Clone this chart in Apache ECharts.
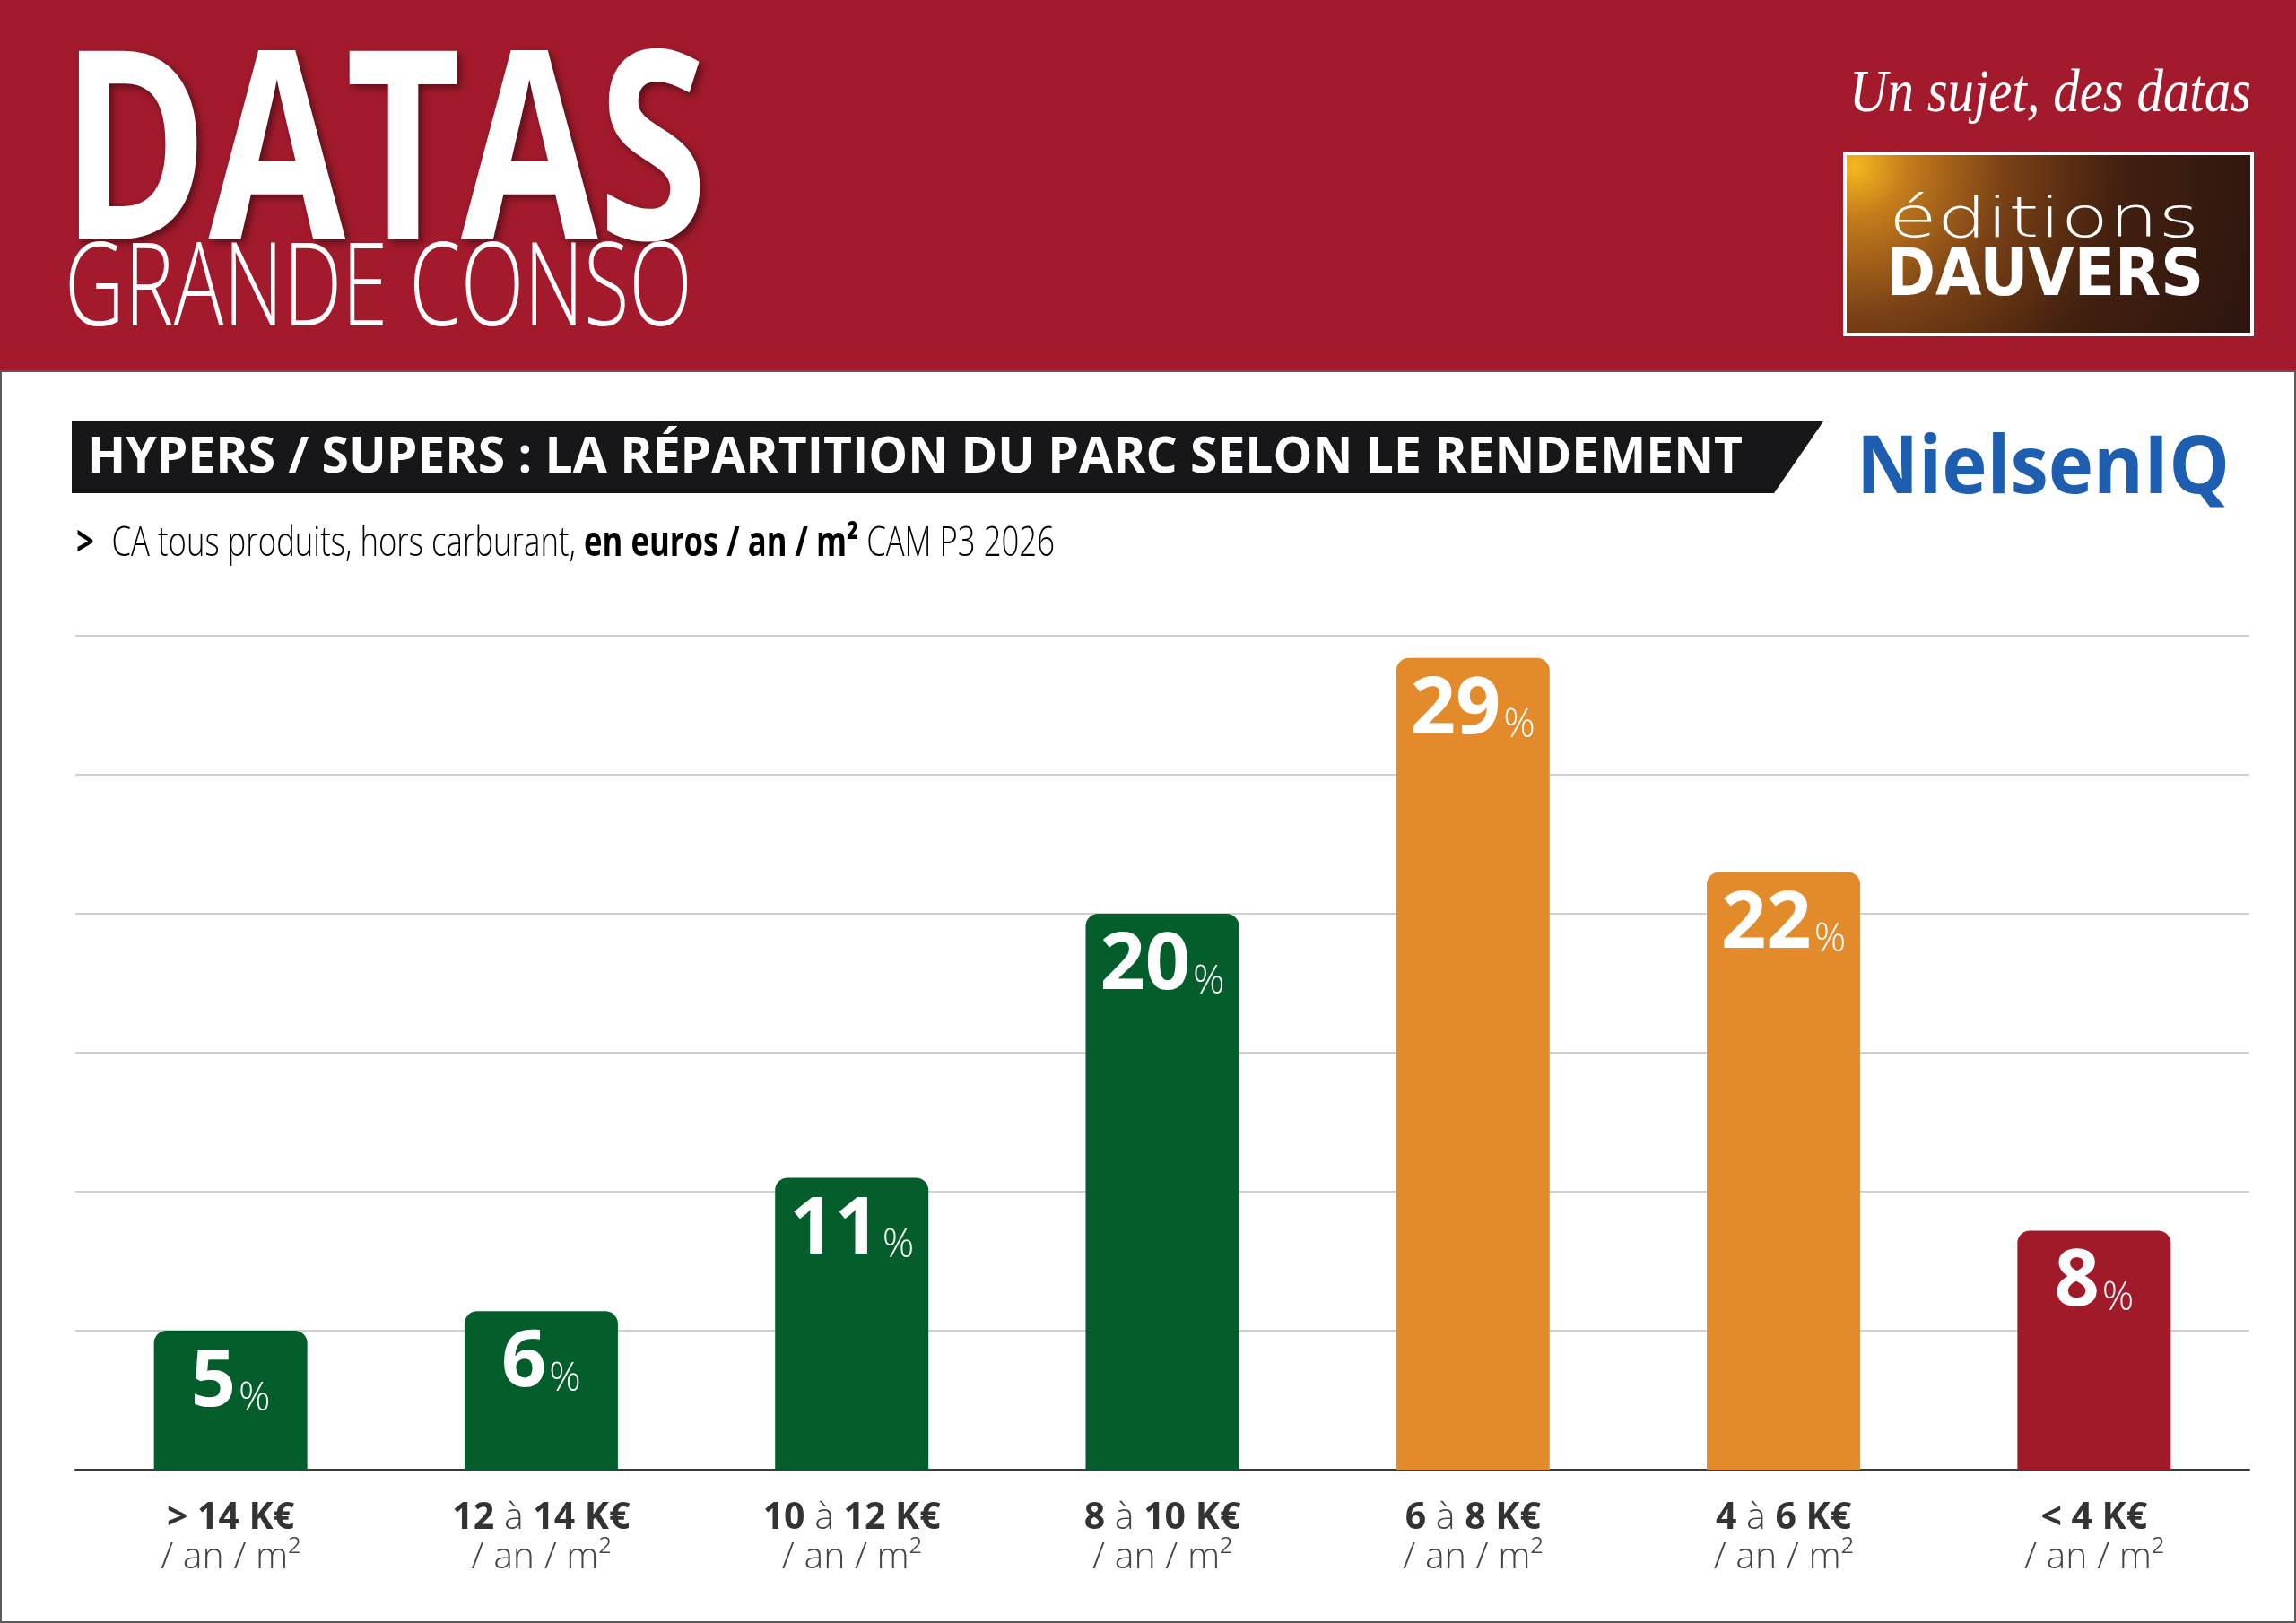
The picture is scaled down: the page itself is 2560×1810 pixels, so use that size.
<!DOCTYPE html>
<html><head><meta charset="utf-8">
<script src="https://cdn.jsdelivr.net/npm/echarts@6/dist/echarts.min.js"></script>
<style>html,body{margin:0;padding:0;background:#fff}#c{width:2560px;height:1810px}</style>
</head><body><div id="c"></div>
<script>
// ---------- DATA ----------
const categories = ['> 14 K€', '12 à 14 K€', '10 à 12 K€', '8 à 10 K€', '6 à 8 K€', '4 à 6 K€', '< 4 K€'];
const unitLabel = '/ an / m²';
const shares = [5.0, 5.7, 10.5, 20.0, 29.2, 21.5, 8.6];      // bar heights (%)
const shareLabels = [5, 6, 11, 20, 29, 22, 8];               // printed percentages
const yTicks = [0, 5, 10, 15, 20, 25, 30];
const headerBig = 'DATAS';
const headerSmall = 'GRANDE CONSO';
const tagline = 'Un sujet, des datas';
const logoLine1 = 'éditions';
const logoLine2 = 'DAUVERS';
const chartTitle = 'HYPERS / SUPERS : LA RÉPARTITION DU PARC SELON LE RENDEMENT';
const sourceName = 'NielsenIQ';
const subtitleParts = [['g', '>'], ['l', 'CA tous produits, hors carburant, '], ['b', 'en euros / an / m²'], ['l', ' CAM P3 2026']];

// ---------- STYLE ----------
const RED = '#a21a2b', GREEN = '#045e2c', ORANGE = '#e38b2b', BARRED = '#a01a2a';
const barColors = [GREEN, GREEN, GREEN, GREEN, ORANGE, ORANGE, BARRED];
const OS = 'Open Sans';

const mctx = document.createElement('canvas').getContext('2d');
function measure(text, weight, size, family, style) {
  mctx.font = `${style || 'normal'} ${weight} ${size}px "${family}"`;
  return mctx.measureText(text).width;
}
function fitText(text, weight, size, family, left, right, cy, color, extra) {
  const sx = (right - left) / measure(text, weight, size, family, extra && extra.fontStyle);
  return {
    type: 'text', x: left, y: cy, scaleX: sx, z: 20,
    style: Object.assign({
      text, fontFamily: family, fontWeight: weight, fontSize: size, fill: color,
      align: 'left', verticalAlign: 'middle', textAlign: 'left', textVerticalAlign: 'middle'
    }, extra || {})
  };
}

// subtitle rich
const SUBPAD = 26;
const subRich = {
  g: { fontFamily: OS, fontWeight: 'bold', fontSize: 46, color: '#2b2b2b', padding: [0, SUBPAD, 0, 0] },
  b: { fontFamily: OS, fontWeight: 'bold', fontSize: 46, color: '#2b2b2b' },
  l: { fontFamily: OS, fontWeight: 300, fontSize: 46, color: '#3a3a3a' }
};
let subW = SUBPAD;
subtitleParts.forEach(p => { subW += measure(p[1], p[0] === 'l' ? 300 : 'bold', 46, OS); });
const subText = subtitleParts.map(p => `{${p[0]}|${p[1]}}`).join('');

const graphics = [
  { type: 'rect', shape: { x: 0, y: 0, width: 2560, height: 414 }, style: { fill: RED }, z: 1 },
  { type: 'rect', shape: { x: 1, y: 414, width: 2558, height: 1395 }, style: { fill: 'none', stroke: '#5a5a5a', lineWidth: 2 }, z: 1 },
  fitText(headerBig, 'bold', 294, OS, 68, 789, 183, '#ffffff', { textShadowColor: 'rgba(0,0,0,0.45)', textShadowBlur: 8, textShadowOffsetX: 4, textShadowOffsetY: 4 }),
  fitText(headerSmall, 300, 130, OS, 72, 772, 326, '#ffffff'),
  fitText(tagline, 'normal', 68, 'Liberation Serif', 2062, 2510, 106, '#ffffff', { fontStyle: 'italic' }),
  { type: 'rect', shape: { x: 2057, y: 171, width: 454, height: 202 },
    style: { fill: { type: 'radial', x: 0.03, y: 0.08, r: 2.3, colorStops: [
      { offset: 0, color: '#f4b81e' }, { offset: 0.12, color: '#c47c1c' }, { offset: 0.35, color: '#7a4116' },
      { offset: 0.62, color: '#43200f' }, { offset: 1, color: '#2c1510' }] },
      stroke: '#ffffff', lineWidth: 4 }, z: 5 },
  fitText(logoLine1, 300, 62, 'DejaVu Sans', 2106, 2452, 248, '#ffffff'),
  fitText(logoLine2, 'bold', 73, 'DejaVu Sans', 2103, 2457, 310, '#ffffff'),
  { type: 'polygon', shape: { points: [[80, 470], [2033, 470], [1978, 550], [80, 550]] }, style: { fill: '#17171a' }, z: 5 },
  fitText(chartTitle, 'bold', 56, OS, 98, 1943, 511, '#ffffff'),
  fitText(sourceName, 'bold', 90, OS, 2070, 2486, 524, '#1d5eb0'),
  { type: 'text', x: 85, y: 607, scaleX: (1176 - 85) / subW, z: 20,
    style: { text: subText, rich: subRich, align: 'left', verticalAlign: 'middle', textAlign: 'left', textVerticalAlign: 'middle' } }
];

const chart = echarts.init(document.getElementById('c'), null, { renderer: 'canvas' });
chart.setOption({
  backgroundColor: '#ffffff',
  animation: false,
  grid: { left: 84, right: 52, top: 709, bottom: 171, containLabel: false },
  xAxis: {
    type: 'category', data: categories,
    axisTick: { show: false },
    axisLine: { lineStyle: { color: '#3a3a3a', width: 2 } },
    axisLabel: {
      margin: 32, lineHeight: 44,
      formatter: v => {
        const parts = v.split(' à ');
        const top = parts.length === 2 ? `{b|${parts[0]}}{l| à }{b|${parts[1]}}` : `{b|${v}}`;
        return top + '\n' + `{l|${unitLabel}}`;
      },
      rich: {
        b: { fontFamily: OS, fontWeight: 'bold', fontSize: 41, color: '#333333', lineHeight: 44 },
        l: { fontFamily: OS, fontWeight: 300, fontSize: 41, color: '#444444', lineHeight: 44 }
      }
    }
  },
  yAxis: {
    type: 'value', min: yTicks[0], max: yTicks[yTicks.length - 1], interval: yTicks[1] - yTicks[0],
    axisLabel: { show: false }, axisLine: { show: false }, axisTick: { show: false },
    splitLine: { lineStyle: { color: '#cfcfcf', width: 2 } }
  },
  series: [{
    type: 'bar', barWidth: 171,
    data: shares.map((v, i) => ({ value: v, itemStyle: { color: barColors[i] } })),
    itemStyle: { borderRadius: [14, 14, 0, 0] },
    label: {
      show: true, position: 'insideTop', distance: 15,
      formatter: p => `{n|${shareLabels[p.dataIndex]}}{p|%}`,
      rich: {
        n: { fontFamily: OS, fontWeight: 'bold', fontSize: 88, color: '#ffffff', lineHeight: 88, verticalAlign: 'bottom' },
        p: { fontFamily: OS, fontWeight: 300, fontSize: 44, color: '#ffffff', lineHeight: 44, verticalAlign: 'bottom', padding: [0, 0, 5, 3] }
      }
    }
  }],
  graphic: graphics
});
</script></body></html>
